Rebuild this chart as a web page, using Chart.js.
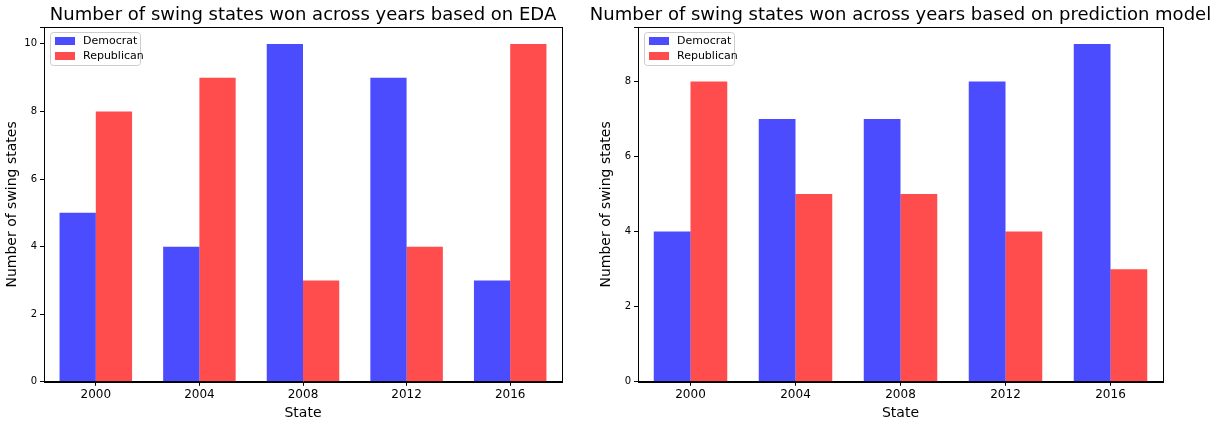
<!DOCTYPE html>
<html><head><meta charset="utf-8">
<script src="https://cdn.jsdelivr.net/npm/chart.js@4"></script>
<style>body{margin:0;background:#fff;font-family:"DejaVu Sans";overflow:hidden}
.box{position:absolute;top:0;height:424px;overflow:hidden}</style></head>
<body>
<div class="box" style="left:0;width:576px"><canvas id="c1"></canvas></div>
<div class="box" style="left:578px;width:650px"><canvas id="c2"></canvas></div>
<script>
const years = ['2000','2004','2008','2012','2016'];
const edaDem = [5,4,10,9,3];
const edaRep = [8,9,3,4,10];
const predDem = [4,7,7,8,9];
const predRep = [8,5,5,4,3];
const seriesNames = ['Democrat','Republican'];
const colors = ['rgba(0,0,255,0.7)','rgba(255,0,0,0.7)'];

const deco = {
  id:'deco',
  afterDraw(ch,args,opts){
    const a=ch.chartArea, c=ch.ctx;
    c.save();
    c.strokeStyle='#000'; c.lineWidth=1;
    c.strokeRect(Math.round(a.left)+0.5,Math.round(a.top)+0.5,Math.round(a.right-a.left),Math.round(a.bottom-a.top));
    c.fillStyle='#000'; c.font='18px "DejaVu Sans"'; c.textAlign='center'; c.textBaseline='alphabetic';
    c.fillText(opts.title,(a.left+a.right)/2,a.top-7);
    c.textAlign='left';
    const x=a.left+6, y=a.top+5;
    c.fillStyle='rgba(255,255,255,0.8)'; c.strokeStyle='#ccc';
    c.beginPath(); c.roundRect(x+0.5,y+0.5,90,33,3); c.fill(); c.stroke();
    c.font='11px "DejaVu Sans"'; c.textBaseline='middle';
    seriesNames.forEach((n,i)=>{
      c.fillStyle=colors[i]; c.fillRect(x+5,y+5+i*15,20,8);
      c.fillStyle='#000'; c.fillText(n,x+33,y+9+i*15);
    });
    c.restore();
  }
};

function make(id,title,d,r,ymax,leftPad,rightPad){
  new Chart(document.getElementById(id),{
    type:'bar',
    data:{labels:years,datasets:[
      {label:seriesNames[0],data:d,backgroundColor:colors[0]},
      {label:seriesNames[1],data:r,backgroundColor:colors[1]}]},
    plugins:[deco],
    options:{
      responsive:false,animation:false,
      layout:{padding:{left:leftPad,right:rightPad,top:27,bottom:0}},
      datasets:{bar:{categoryPercentage:0.7,barPercentage:1}},
      plugins:{legend:{display:false},tooltip:{enabled:false},deco:{title:title}},
      scales:{
        x:{grid:{drawOnChartArea:false,offset:false,tickLength:4,color:'#000'},border:{color:'#000'},
           ticks:{color:'#000',padding:2,font:{size:12,family:'DejaVu Sans'}},
           title:{display:true,text:'State',color:'#000',font:{size:14,family:'DejaVu Sans'},padding:{top:1,bottom:0}}},
        y:{min:0,max:ymax,afterFit(s){s.width=44;},
           grid:{drawOnChartArea:false,tickLength:4,color:'#000'},border:{color:'#000'},
           ticks:{stepSize:2,color:'#000',font:{size:10,family:'DejaVu Sans'},
             callback:v=>Number.isInteger(v)&&v%2===0?v:''},
           title:{display:true,text:'Number of swing states',color:'#000',font:{size:14,family:'DejaVu Sans'}}}
      }
    }
  });
}
function size(id,w){const c=document.getElementById(id);c.width=w;c.height=422;c.style.width=w+'px';c.style.height='422px';}
size('c1',576);size('c2',650);
make('c1','Number of swing states won across years based on EDA',edaDem,edaRep,10.5,0,14);
make('c2','Number of swing states won across years based on prediction model',predDem,predRep,9.45,16,65);
</script></body></html>
